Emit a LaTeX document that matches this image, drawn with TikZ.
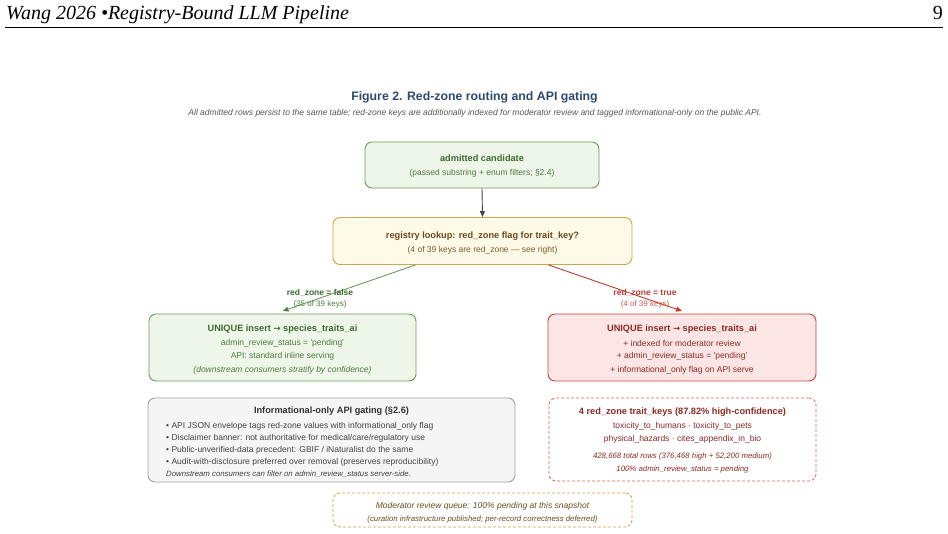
\documentclass[tikz,border=0pt]{standalone}
\usepackage{fontspec}
\setmainfont{Liberation Sans}
\newfontfamily\hdrfont{Liberation Serif}
\newfontfamily\arrfont{DejaVu Sans}
\usetikzlibrary{arrows.meta}
\definecolor{gfill}{HTML}{EEF6E9}
\definecolor{gline}{HTML}{6E9A5E}
\definecolor{gtext}{HTML}{3F6A2E}
\definecolor{gtext2}{HTML}{4F7A40}
\definecolor{yfill}{HTML}{FEFAE8}
\definecolor{yline}{HTML}{C8A850}
\definecolor{ytext}{HTML}{6B4A1A}
\definecolor{ytext2}{HTML}{7A5A2A}
\definecolor{rfill}{HTML}{FBE6E5}
\definecolor{rline}{HTML}{C0453B}
\definecolor{rtext}{HTML}{8A2A22}
\definecolor{rdash}{HTML}{D0675C}
\definecolor{kfill}{HTML}{F5F5F5}
\definecolor{kline}{HTML}{A0A0A0}
\definecolor{ktext}{HTML}{333333}
\definecolor{ktext2}{HTML}{444444}
\definecolor{gold}{HTML}{C9A445}
\definecolor{titleblue}{HTML}{2E4A6E}
\definecolor{subgray}{HTML}{555555}
\definecolor{arrgray}{HTML}{444444}
\definecolor{egreen}{HTML}{6A9A5C}
\definecolor{ered}{HTML}{BF3B2E}
\tikzset{
  box/.style={draw, rounded corners=7pt, line width=0.9pt, inner sep=0pt},
  hd/.style={font=\bfseries\fontsize{9.2}{11}\selectfont, inner sep=0pt},
  bd/.style={font=\fontsize{8.5}{10}\selectfont, inner sep=0pt},
  sm/.style={font=\fontsize{8.5}{10}\selectfont, inner sep=0pt},
  it/.style={font=\itshape\fontsize{8.5}{10}\selectfont, inner sep=0pt},
  itsm/.style={font=\itshape\fontsize{7.8}{9}\selectfont, inner sep=0pt}
}
\newcommand{\myarrow}{{\arrfont\fontsize{8.5}{10}\selectfont →}}
\begin{document}
\begin{tikzpicture}[x=1pt,y=-1pt]
\useasboundingbox (0,0) rectangle (948,534);
% header
\node[anchor=base west, inner sep=0pt, font=\hdrfont\itshape\fontsize{20}{24}\selectfont] (hdr) at (6,20) {Wang 2026 \textbullet Registry-Bound LLM Pipeline};
\node[anchor=base east, inner sep=0pt, font=\hdrfont\fontsize{20}{24}\selectfont] (pg) at (943,20) {9};
\draw[line width=1.1pt] (5,27.5) -- (943,27.5);
% title
\node[inner sep=0pt, font=\bfseries\fontsize{12.3}{14}\selectfont, text=titleblue] (title) at (474.5,97) {Figure 2. Red-zone routing and API gating};
\node[inner sep=0pt, font=\itshape\fontsize{8.5}{10}\selectfont, text=subgray] (sub) at (475,113) {All admitted rows persist to the same table; red-zone keys are additionally indexed for moderator review and tagged informational-only on the public API.};
% admitted
\node[box, draw=gline, fill=gfill, minimum width=234pt, minimum height=46pt] (adm) at (482,165) {};
\node[hd, text=gtext] (adm1) at (482,158) {admitted candidate};
\node[sm, text=gtext2] (adm2) at (482,173) {(passed substring + enum filters; §2.4)};
% registry
\node[box, draw=yline, fill=yfill, minimum width=299pt, minimum height=47pt] (reg) at (482.5,241) {};
\node[hd, text=ytext] (reg1) at (482.5,236) {registry lookup: red\_zone flag for trait\_key?};
\node[sm, text=ytext2] (reg2) at (482.5,250) {(4 of 39 keys are red\_zone — see right)};
% left green
\node[box, draw=gline, fill=gfill, minimum width=267pt, minimum height=67pt] (lg) at (282.5,347.5) {};
\node[hd, text=gtext] (lg1) at (282.5,329) {UNIQUE insert \myarrow{} species\_traits\_ai};
\node[bd, text=gtext2] (lg2) at (282.5,343) {admin\_review\_status = \textquotesingle pending\textquotesingle};
\node[bd, text=gtext2] (lg3) at (282.5,356.5) {API: standard inline serving};
\node[it, text=gtext2] (lg4) at (282.5,370) {(downstream consumers stratify by confidence)};
% right red
\node[box, draw=rline, fill=rfill, minimum width=268pt, minimum height=67pt] (rg) at (682,347.5) {};
\node[hd, text=rtext] (rg1) at (682,329) {UNIQUE insert \myarrow{} species\_traits\_ai};
\node[bd, text=rtext] (rg2) at (682,343) {+ indexed for moderator review};
\node[bd, text=rtext] (rg3) at (682,356.5) {+ admin\_review\_status = \textquotesingle pending\textquotesingle};
\node[bd, text=rtext] (rg4) at (682,370) {+ informational\_only flag on API serve};
% gray gating box
\node[box, draw=kline, fill=kfill, minimum width=367pt, minimum height=84pt] (gate) at (331.5,440) {};
\node[hd, text=ktext] (gate0) at (331.5,411.5) {Informational-only API gating (§2.6)};
\node[bd, text=ktext2, anchor=west] (gate1) at (166,426) {• API JSON envelope tags red-zone values with informational\_only flag};
\node[bd, text=ktext2, anchor=west] (gate2) at (166,438.5) {• Disclaimer banner: not authoritative for medical/care/regulatory use};
\node[bd, text=ktext2, anchor=west] (gate3) at (166,450.5) {• Public-unverified-data precedent: GBIF / iNaturalist do the same};
\node[bd, text=ktext2, anchor=west] (gate4) at (166,462) {• Audit-with-disclosure preferred over removal (preserves reproducibility)};
\node[itsm, text=ktext2, anchor=west] (gate5) at (166,474) {Downstream consumers can filter on admin\_review\_status server-side.};
% red dashed keys box
\node[box, draw=rdash, line width=0.8pt, dash pattern=on 3pt off 2pt, minimum width=267pt, minimum height=83pt] (keys) at (682.5,439.5) {};
\node[hd, text=rtext] (keys0) at (682.5,412) {4 red\_zone trait\_keys (87.82\% high-confidence)};
\node[bd, text=rtext] (keys1) at (682.5,426) {toxicity\_to\_humans · toxicity\_to\_pets};
\node[bd, text=rtext] (keys2) at (682.5,439) {physical\_hazards · cites\_appendix\_in\_bio};
\node[itsm, text=rtext] (keys3) at (682.5,456) {428,668 total rows (376,468 high + 52,200 medium)};
\node[itsm, text=rtext] (keys4) at (682.5,469) {100\% admin\_review\_status = pending};
% bottom gold dashed box
\node[box, draw=gold, line width=0.8pt, dash pattern=on 3pt off 2pt, minimum width=299pt, minimum height=34pt] (queue) at (482.5,510) {};
\node[it, text=ytext] (queue1) at (482.5,506) {Moderator review queue: 100\% pending at this snapshot};
\node[itsm, text=ytext] (queue2) at (482.5,519) {(curation infrastructure published; per-record correctness deferred)};
% connectors
\draw[line width=0.9pt, draw=arrgray, -{Triangle[length=6pt,width=5pt,fill=arrgray]}] (adm.south) -- (reg.north);
\draw[line width=0.9pt, draw=egreen, -{Triangle[length=6pt,width=5pt,fill=arrgray]}, color=egreen] ([xshift=-67pt]reg.south) -- ([yshift=2.5pt]lg.north);
\draw[line width=0.9pt, draw=ered, -{Triangle[length=6pt,width=5pt]}] ([xshift=66pt]reg.south) -- ([yshift=2.5pt]rg.north);
% edge labels
\node[font=\bfseries\fontsize{8.5}{10}\selectfont, text=gtext, inner sep=0pt] (lf1) at (320,293) {red\_zone = false};
\node[font=\fontsize{8}{9.6}\selectfont, text=gtext2, inner sep=0pt] (lf2) at (320,304) {(35 of 39 keys)};
\node[font=\bfseries\fontsize{8.5}{10}\selectfont, text=ered, inner sep=0pt] (lt1) at (645,293) {red\_zone = true};
\node[font=\fontsize{8}{9.6}\selectfont, text=ered!85, inner sep=0pt] (lt2) at (645,304) {(4 of 39 keys)};
\end{tikzpicture}
\end{document}
